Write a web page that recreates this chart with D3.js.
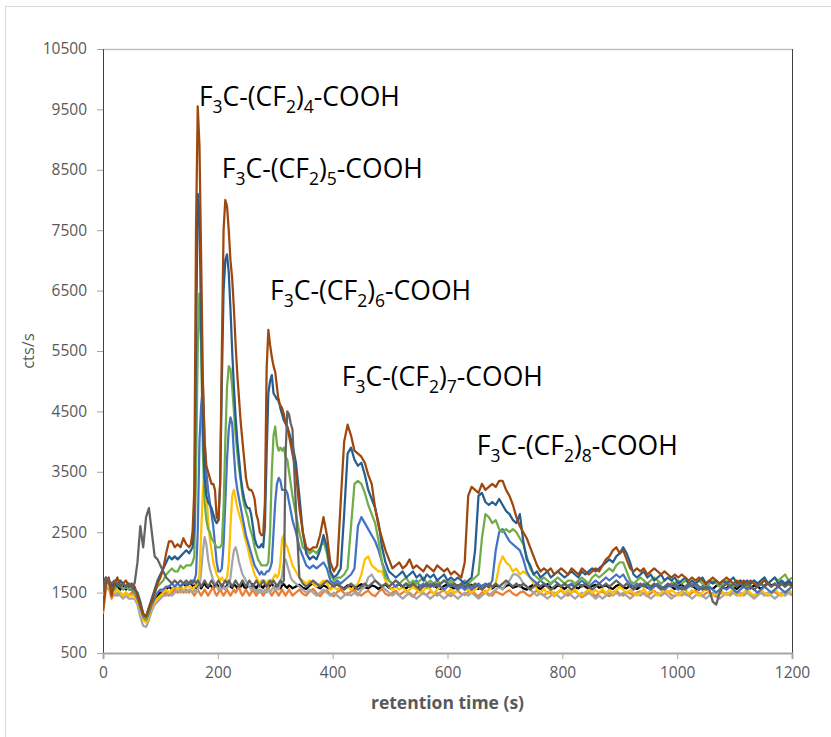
<!DOCTYPE html>
<html lang="en">
<head>
<meta charset="UTF-8">
<title>Retention time chromatogram</title>
<script src="https://d3js.org/d3.v7.min.js"></script>
<style>
  body { margin: 0; background: #fff; }
  svg { display: block; font-family: "Open Sans", sans-serif; }
</style>
</head>
<body>
<div id="chart"></div>
<script>
// sample grid (s): every 5 s, every 3 s across the first peaks, then every 6 s
const times = [].concat(d3.range(0, 151, 5), d3.range(153, 331, 3), d3.range(336, 1201, 6));

const xTicks = [0, 200, 400, 600, 800, 1000, 1200];
const yTicks = [500, 1500, 2500, 3500, 4500, 5500, 6500, 7500, 8500, 9500, 10500];

const blackSeries = [
  1600,1700,1650,1600,1650,1600,1550,1600,1550,1600,
  1550,1500,1400,1250,1100,1050,1150,1300,1400,1450,
  1500,1500,1550,1600,1550,1600,1550,1600,1650,1600,
  1650,
  1650,1600,1620,1580,1640,1600,1570,1620,1650,1600,
  1580,1630,1600,1570,1620,1650,1600,1580,1630,1600,
  1570,1620,1650,1600,1580,1640,1610,1570,1620,1600,
  1650,1590,1570,1620,1600,1580,1640,1600,1570,1620,
  1650,1600,1580,1630,1600,1570,1620,1650,1600,1580,
  1630,1600,1570,1620,1640,1600,1580,1620,1600,1570,
  1600,1630,1580,1560,1620,1650,1600,1570,1620,1590,
  1560,1610,1640,1590,1570,1620,1600,1560,1610,1640,
  1590,1570,1620,1600,1560,1610,1630,1580,1560,1610,
  1640,1590,1570,1620,1600,1560,1610,1630,1580,1600,
  1620,1580,1560,1610,1640,1590,1570,1620,1600,1560,
  1600,1630,1580,1560,1610,1640,1590,1570,1620,1600,
  1560,1610,1630,1580,1600,1620,1570,1550,1600,1630,
  1590,1560,1610,1640,1580,1570,1620,1600,1560,1610,
  1640,1590,1570,1620,1600,1560,1610,1630,1580,1600,
  1620,1580,1560,1610,1640,1590,1570,1620,1600,1560,
  1600,1630,1580,1560,1610,1640,1590,1570,1620,1600,
  1560,1610,1630,1580,1600,1620,1570,1550,1600,1630,
  1590,1560,1610,1640,1580,1570,1620,1600,1560,1610,
  1640,1590,1570,1620,1600,1560,1610,1660,1620,1640,
  1600,1650,1620,1680,1610
];

const orangeSeries = [
  1150,1550,1600,1400,1500,1450,1500,1450,1500,1450,
  1500,1450,1350,1200,1100,1050,1150,1250,1350,1400,
  1450,1450,1500,1450,1500,1550,1500,1550,1500,1550,
  1500,
  1550,1500,1450,1500,1550,1500,1450,1500,1550,1500,
  1450,1500,1550,1600,1500,1450,1500,1550,1500,1450,
  1500,1550,1500,1450,1500,1550,1500,1550,1600,1500,
  1450,1500,1550,1500,1450,1500,1550,1500,1450,1500,
  1550,1500,1450,1500,1550,1600,1500,1450,1500,1550,
  1500,1450,1500,1550,1500,1450,1500,1550,1500,1450,
  1500,1550,1480,1450,1520,1560,1490,1440,1510,1540,
  1470,1440,1510,1550,1490,1460,1520,1540,1480,1450,
  1500,1530,1470,1440,1510,1560,1480,1450,1500,1530,
  1460,1500,1540,1470,1430,1500,1550,1480,1460,1520,
  1490,1450,1510,1540,1470,1440,1500,1530,1480,1460,
  1510,1550,1480,1440,1500,1530,1470,1450,1520,1490,
  1460,1510,1540,1480,1450,1500,1520,1470,1440,1500,
  1530,1480,1450,1510,1490,1440,1500,1540,1470,1450,
  1500,1530,1480,1420,1470,1510,1490,1440,1500,1520,
  1470,1440,1500,1530,1480,1450,1510,1490,1460,1500,
  1520,1480,1440,1490,1530,1470,1450,1500,1520,1460,
  1440,1490,1510,1470,1450,1500,1530,1480,1440,1490,
  1510,1470,1430,1480,1500,1460,1490,1520,1470,1450,
  1490,1510,1460,1440,1480,1500,1470,1450,1490,1510,
  1470,1450,1490,1500,1480
];

const lightGraySeries = [
  1450,1600,1550,1500,1450,1500,1450,1400,1450,1400,
  1400,1400,1300,1100,950,930,1050,1200,1300,1350,
  1400,1450,1450,1500,1450,1500,1550,1500,1550,1500,
  1550,
  1550,1500,1550,1500,1550,1600,1850,2200,2420,2300,
  2050,1900,1800,1700,1650,1600,1550,1600,1550,1600,
  1550,1600,1600,1750,2000,2200,2250,2150,2000,1900,
  1800,1750,1700,1650,1600,1550,1600,1550,1500,1550,
  1500,1550,1500,1550,1500,1550,1500,1550,1600,1550,
  1600,1550,1650,1800,2000,2050,1950,1850,1750,1700,
  1650,1600,1550,1500,1550,1500,1450,1500,1550,1500,
  1450,1500,1450,1400,1450,1500,1450,1500,1450,1550,
  1600,1750,1800,1700,1650,1600,1550,1500,1450,1500,
  1450,1400,1450,1500,1450,1400,1450,1500,1450,1400,
  1450,1500,1450,1400,1450,1500,1450,1400,1450,1500,
  1450,1500,1450,1400,1450,1500,1450,1500,1550,1600,
  1550,1650,1700,1800,1800,1750,1650,1600,1550,1500,
  1450,1500,1450,1400,1450,1500,1450,1400,1450,1500,
  1450,1400,1450,1500,1450,1500,1450,1400,1450,1400,
  1450,1500,1450,1500,1450,1500,1450,1400,1450,1500,
  1450,1500,1450,1400,1450,1500,1450,1500,1450,1400,
  1450,1500,1450,1500,1450,1400,1450,1500,1450,1400,
  1450,1500,1450,1400,1450,1500,1450,1500,1450,1500,
  1450,1500,1450,1400,1450,1500,1450,1500,1450,1400,
  1450,1500,1450,1500,1450
];

const goldSeries = [
  1500,1650,1600,1550,1500,1550,1500,1450,1500,1450,
  1450,1450,1350,1200,1050,1000,1100,1250,1350,1400,
  1450,1500,1550,1500,1550,1600,1550,1600,1550,1600,
  1600,
  1600,1550,1600,1600,1650,1800,2500,3200,3480,3200,
  2700,2400,2200,2000,1900,1800,1750,1700,1750,1700,
  1700,1750,2000,2600,3100,3200,3050,2900,2800,2700,
  2600,2450,2350,2250,2100,2000,1900,1800,1750,1700,
  1650,1700,1650,1700,1650,1700,1650,1700,1750,1800,
  1750,1800,2000,2400,2450,2300,2250,2150,2050,1950,
  1850,1750,1700,1650,1700,1650,1600,1650,1700,1650,
  1550,1600,1550,1600,1550,1600,1550,1600,1650,1800,
  2050,2100,1950,1900,1850,1850,1700,1600,1550,1600,
  1550,1600,1500,1550,1600,1550,1500,1530,1600,1550,
  1480,1550,1600,1540,1500,1560,1490,1550,1600,1550,
  1550,1500,1550,1600,1550,1500,1550,1600,1650,1950,
  2100,2000,1950,1850,1900,1800,1850,1800,1750,1650,
  1550,1500,1560,1480,1550,1450,1510,1560,1490,1540,
  1500,1560,1480,1450,1510,1550,1490,1540,1500,1560,
  1490,1550,1480,1540,1600,1550,1490,1540,1500,1450,
  1500,1560,1480,1540,1510,1450,1500,1560,1490,1540,
  1500,1450,1510,1550,1480,1540,1500,1450,1510,1560,
  1500,1450,1490,1550,1500,1460,1510,1550,1480,1450,
  1500,1560,1490,1450,1510,1540,1500,1460,1490,1550,
  1500,1450,1510,1550,1490
];

const blueSeries = [
  1500,1700,1650,1550,1600,1650,1600,1550,1600,1550,
  1550,1500,1400,1250,1100,1050,1150,1300,1400,1500,
  1550,1550,1600,1600,1650,1600,1650,1600,1650,1650,
  1650,
  1650,1700,1700,1800,2500,4000,4600,4900,4000,3500,
  3200,3000,2800,2600,2300,2000,1850,1850,1900,2300,
  3000,3700,4200,4400,4300,3800,3400,3200,3050,2900,
  2750,2600,2450,2350,2250,2150,2050,1950,1900,1850,
  1800,1850,1800,1800,1850,1850,1900,2000,2500,3000,
  3300,3400,3350,3200,3200,3200,3150,3000,2850,2700,
  2500,2250,2100,1950,1900,1950,1900,1950,2000,1900,
  1700,1650,1700,1650,1700,1750,1800,1900,2600,2750,
  2650,2550,2450,2350,2200,2000,1850,1700,1650,1600,
  1650,1600,1650,1600,1650,1700,1600,1650,1600,1650,
  1600,1650,1600,1550,1600,1650,1600,1550,1600,1550,
  1600,1550,1600,1650,1600,1650,1600,1700,2200,2500,
  2550,2450,2350,2300,2250,2200,2050,1850,1750,1700,
  1650,1700,1650,1600,1650,1700,1650,1600,1650,1600,
  1650,1600,1650,1700,1650,1600,1650,1700,1650,1700,
  1750,1700,1750,1800,1750,1800,1700,1650,1600,1650,
  1600,1650,1600,1550,1600,1650,1600,1550,1600,1650,
  1600,1550,1600,1550,1600,1650,1600,1550,1600,1550,
  1600,1550,1500,1550,1600,1550,1600,1550,1500,1550,
  1600,1550,1600,1550,1500,1550,1600,1550,1500,1550,
  1600,1550,1500,1550,1600
];

const greenSeries = [
  1550,1650,1700,1600,1550,1600,1650,1550,1600,1550,
  1600,1500,1450,1300,1150,1050,1200,1350,1500,1600,
  1650,1700,1800,1850,1900,1850,1850,1950,1900,1950,
  1950,
  1950,2000,2100,3500,5500,6450,5600,3800,3000,2700,
  2550,2500,2400,2350,2300,2250,2250,2250,2300,2900,
  4000,4900,5250,5200,4900,4500,4100,3800,3550,3350,
  3100,2950,2850,2750,2600,2500,2400,2250,2150,2050,
  2000,1950,1950,1950,1950,2000,2500,3500,4100,4250,
  3950,3850,3900,3850,3900,3750,3700,3500,3300,3100,
  2800,2500,2250,2200,2150,2200,2150,2250,2350,2150,
  1800,1700,1750,1750,1800,1900,2600,3300,3350,3300,
  3150,2950,2800,2650,2350,2000,1750,1700,1650,1700,
  1650,1700,1750,1650,1700,1650,1700,1750,1650,1700,
  1650,1700,1650,1700,1650,1700,1650,1600,1650,1700,
  1650,1700,1750,1800,2400,2800,2750,2650,2700,2550,
  2500,2550,2500,2550,2500,2400,2300,2100,1900,1800,
  1750,1700,1750,1700,1650,1700,1750,1700,1650,1700,
  1700,1650,1700,1750,1700,1650,1750,1800,1750,1800,
  1850,1900,1850,1950,2000,2000,1850,1700,1650,1700,
  1750,1700,1650,1700,1750,1700,1650,1700,1750,1700,
  1650,1700,1650,1700,1650,1600,1650,1700,1650,1600,
  1650,1700,1650,1600,1650,1700,1650,1600,1650,1700,
  1650,1600,1650,1700,1650,1700,1750,1650,1700,1750,
  1700,1750,1800,1700,1750
];

const darkBlueSeries = [
  1650,1750,1700,1600,1650,1600,1700,1650,1600,1650,
  1600,1550,1500,1350,1150,1100,1250,1400,1550,1700,
  1800,1900,2000,2100,2050,2100,2050,2100,2150,2200,
  2150,
  2200,2250,2600,5500,8100,7800,5800,4200,3400,3100,
  3000,2950,2900,2800,2700,2650,2700,3300,5000,6500,
  7000,7100,6800,6200,5500,4900,4400,4000,3700,3400,
  3200,3050,2950,2900,2900,2800,2600,2400,2300,2250,
  2250,2300,2250,2600,3800,4800,5000,5100,4800,4750,
  4700,4700,4550,4450,4350,4300,4250,4150,4050,3950,
  3650,3100,2500,2150,2050,2100,2050,2200,2450,2250,
  1850,1750,1800,1900,2800,3800,3900,3700,3600,3650,
  3450,3200,3050,2900,2650,2250,2000,1850,1800,1750,
  1800,1850,1750,1800,1850,1750,1800,1700,1800,1750,
  1800,1700,1750,1800,1700,1750,1700,1750,1700,1650,
  1700,1750,2200,3100,3150,3000,2950,3000,2950,3050,
  2950,2850,2800,2700,2650,2800,2350,2050,1950,1800,
  1850,1750,1800,1850,1750,1800,1850,1800,1750,1800,
  1850,1800,1750,1850,1800,1850,1900,1850,1900,1950,
  2000,2050,2000,2100,2150,2250,2150,2000,1800,1750,
  1800,1850,1750,1800,1700,1750,1800,1700,1750,1700,
  1750,1650,1700,1750,1650,1700,1650,1700,1750,1650,
  1700,1650,1700,1650,1700,1650,1700,1750,1650,1700,
  1650,1700,1650,1700,1650,1700,1750,1650,1700,1750,
  1650,1700,1650,1700,1650
];

const brownSeries = [
  1200,1650,1750,1450,1650,1750,1600,1650,1700,1600,
  1650,1600,1450,1300,1150,1100,1250,1350,1500,1650,
  1750,1900,2150,2350,2350,2250,2300,2250,2400,2300,
  2250,
  2300,2500,3200,7500,9550,8900,7000,5000,4000,3600,
  3500,3400,3300,3300,3200,2750,2700,3300,5500,7500,
  8000,7900,7500,7000,6700,6200,5600,5100,4700,4300,
  4000,3700,3400,3250,3200,3200,3150,3050,2800,2700,
  2500,2450,2450,3000,5200,5850,5600,5400,5250,5150,
  4900,4650,4600,4550,4450,4300,4230,4100,3950,3800,
  3500,2900,2500,2250,2200,2250,2250,2450,2750,2450,
  2000,1850,1950,3000,4000,4280,4100,3850,3800,3750,
  3650,3450,3300,2900,2600,2400,2200,2050,1900,1950,
  2000,1900,1950,2050,1900,1950,1900,1850,1950,1900,
  1850,1950,1900,1850,1900,1800,1850,1800,1750,2000,
  3100,3250,3200,3150,3300,3200,3250,3300,3250,3350,
  3350,3200,3100,2950,2750,2600,2500,2400,2250,2100,
  1950,1850,1900,1850,1900,1800,1850,1900,1850,1800,
  1900,1850,1800,1900,1850,1800,1850,1900,1850,1950,
  2050,2100,2200,2250,2150,2200,2050,1900,1850,1900,
  1850,1900,1800,1850,1900,1850,1800,1850,1800,1750,
  1800,1750,1800,1750,1700,1750,1700,1750,1700,1650,
  1700,1750,1700,1650,1700,1750,1700,1650,1700,1650,
  1700,1650,1700,1650,1600,1650,1700,1650,1600,1650,
  1600,1650,1600,1650,1600
];

const darkGraySeries = [
  1550,1750,1700,1650,1700,1650,1600,1650,1600,1650,
  1600,1650,2000,2600,2250,2750,2900,2500,2100,2050,
  1950,1850,1750,1700,1650,1700,1650,1700,1650,1700,
  1650,
  1700,1650,1700,1650,1700,1650,1600,1650,1700,1650,
  1600,1650,1700,1650,1600,1650,1700,1650,1600,1650,
  1700,1650,1700,1650,1600,1650,1700,1650,1600,1650,
  1700,1650,1600,1650,1700,1650,1600,1650,1700,1650,
  1600,1650,1700,1650,1600,1650,1700,1650,1700,1650,
  1600,1650,1700,1650,1700,3800,4500,4450,4300,4200,
  2900,1750,1650,1600,1650,1700,1650,1600,1650,1700,
  1650,1600,1650,1600,1550,1600,1650,1600,1550,1600,
  1650,1600,1650,1700,1650,1600,1650,1600,1650,1700,
  1650,1600,1650,1600,1650,1600,1550,1600,1650,1600,
  1650,1600,1650,1700,1650,1600,1650,1600,1650,1600,
  1650,1600,1650,1600,1550,1600,1650,1600,1650,1600,
  1650,1700,1650,1600,1650,1600,1650,1600,1550,1600,
  1650,1600,1650,1600,1550,1600,1650,1600,1650,1600,
  1550,1600,1650,1600,1650,1600,1550,1600,1650,1600,
  1650,1600,1650,1700,1650,1600,1650,1600,1550,1600,
  1650,1600,1650,1600,1650,1600,1550,1600,1650,1600,
  1650,1600,1550,1600,1650,1600,1650,1600,1550,1600,
  1550,1350,1300,1500,1600,1650,1600,1650,1600,1650,
  1600,1650,1600,1550,1600,1650,1600,1650,1600,1650,
  1600,1650,1600,1650,1600
];

// drawing order: later series are drawn on top
const seriesList = [blackSeries, orangeSeries, lightGraySeries, goldSeries, blueSeries,
                    greenSeries, darkBlueSeries, brownSeries, darkGraySeries];
const seriesColors = ["#000000", "#ED7D31", "#A5A5A5", "#FFC000", "#4472C4",
                      "#70AD47", "#255E91", "#9E480E", "#636363"];

// peak labels: chain length n and the (time, cts/s) point where each label starts
const labelN = [4, 5, 6, 7, 8];
const labelTime = [167, 207, 291, 416, 651];
const labelValue = [9560, 8360, 6340, 4920, 3780];

seriesList.forEach((s, i) => {
  if (s.length !== times.length) throw new Error("series " + i + " has " + s.length + " values, expected " + times.length);
});

const width = 831, height = 737;
const margin = { top: 49, right: 39, bottom: 84, left: 103 };
const plotW = width - margin.left - margin.right;
const plotH = height - margin.top - margin.bottom;

const svg = d3.select("#chart").append("svg")
  .attr("width", width)
  .attr("height", height);

// chart frame
svg.append("rect")
  .attr("x", 5.5).attr("y", 6.5)
  .attr("width", width).attr("height", height)
  .attr("fill", "#fff")
  .attr("stroke", "#d9d9d9");

const g = svg.append("g").attr("transform", `translate(${margin.left},${margin.top})`);

const x = d3.scaleLinear().domain([0, 1200]).range([0, plotW]);
const y = d3.scaleLinear().domain([500, 10500]).range([plotH, 0]);

// plot area border (top grey, right dark)
g.append("line").attr("x1", 0).attr("x2", plotW).attr("y1", 0.5).attr("y2", 0.5)
  .attr("stroke", "#bfbfbf").attr("stroke-width", 1.5);
g.append("line").attr("x1", plotW + 0.5).attr("x2", plotW + 0.5).attr("y1", 0).attr("y2", plotH)
  .attr("stroke", "#404040").attr("stroke-width", 1);

// y axis
const yAxis = g.append("g")
  .call(d3.axisLeft(y).tickValues(yTicks).tickFormat(d3.format("d")).tickSize(6).tickPadding(10));
yAxis.select(".domain").attr("stroke", "#404040");
yAxis.selectAll(".tick line").attr("stroke", "#a6a6a6");
yAxis.selectAll("text").attr("fill", "#595959").style("font-size", "15.5px")
  .style("font-family", "'Open Sans', sans-serif");

// x axis
const xAxis = g.append("g")
  .attr("transform", `translate(0,${plotH})`)
  .call(d3.axisBottom(x).tickValues(xTicks).tickFormat(d3.format("d")).tickSize(6).tickPadding(8));
xAxis.select(".domain").attr("stroke", "#a6a6a6").attr("stroke-width", 2);
xAxis.selectAll(".tick line").attr("stroke", "#a6a6a6");
xAxis.selectAll("text").attr("fill", "#595959").style("font-size", "15.5px")
  .style("font-family", "'Open Sans', sans-serif");

// axis titles
svg.append("text")
  .attr("x", margin.left + plotW / 2)
  .attr("y", 709)
  .attr("text-anchor", "middle")
  .attr("fill", "#595959")
  .style("font-size", "17.5px")
  .style("font-weight", "bold")
  .text("retention time (s)");

svg.append("text")
  .attr("transform", `translate(34,${margin.top + plotH / 2}) rotate(-90)`)
  .attr("text-anchor", "middle")
  .attr("fill", "#595959")
  .style("font-size", "16.5px")
  .text("cts/s");

// traces
g.append("clipPath").attr("id", "plot-clip")
  .append("rect").attr("width", plotW).attr("height", plotH);

const line = d3.line()
  .x((d, i) => x(times[i]))
  .y(d => y(d));

g.append("g").attr("clip-path", "url(#plot-clip)")
  .selectAll("path")
  .data(seriesList)
  .join("path")
  .attr("d", line)
  .attr("fill", "none")
  .attr("stroke", (d, i) => seriesColors[i])
  .attr("stroke-width", 2.25)
  .attr("stroke-linejoin", "round");

// peak labels F3C-(CF2)n-COOH
labelN.forEach((n, i) => {
  const t = g.append("text")
    .attr("x", x(labelTime[i]))
    .attr("y", y(labelValue[i]))
    .attr("fill", "#000")
    .style("font-size", "26.5px");
  const parts = [["F", 0], ["3", 1], ["C-(CF", 0], ["2", 1], [")", 0], [String(n), 1], ["-COOH", 0]];
  let shifted = false;
  parts.forEach(([txt, sub]) => {
    const ts = t.append("tspan").text(txt);
    if (sub && !shifted) { ts.attr("dy", 7).style("font-size", "17.5px"); shifted = true; }
    else if (sub) { ts.style("font-size", "17.5px"); }
    else if (shifted) { ts.attr("dy", -7); shifted = false; }
  });
});
</script>
</body>
</html>
